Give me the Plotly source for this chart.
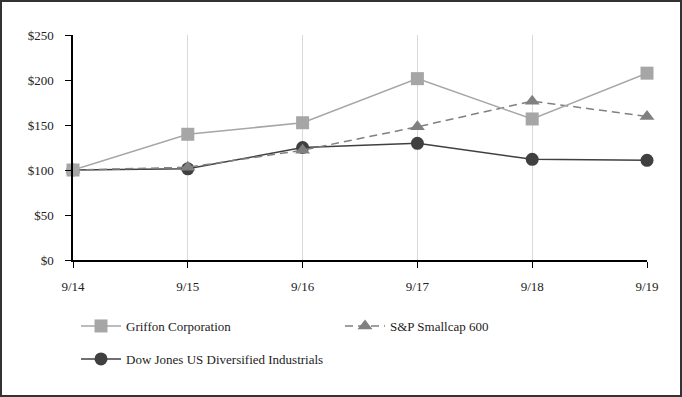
import plotly.graph_objects as go

categories = ["9/14", "9/15", "9/16", "9/17", "9/18", "9/19"]
griffon = [100, 139.7, 152.5, 201.5, 156.7, 207.6]
sp600 = [100, 103.0, 122.0, 148.0, 176.5, 159.5]
dowjones = [100, 101.3, 125.0, 129.6, 111.9, 110.8]
y_ticks = [0, 50, 100, 150, 200, 250]
y_ticklabels = ["$0", "$50", "$100", "$150", "$200", "$250"]

W, H = 682, 397
L, R, T, B = 73, 35, 35, 137
pw, ph = W - L - R, H - T - B

FONT = "Liberation Serif"

fig = go.Figure()
fig.add_trace(go.Scatter(
    x=categories, y=dowjones, name="Dow Jones US Diversified Industrials", mode="lines+markers",
    line=dict(color="#404040", width=1.5),
    marker=dict(symbol="circle", size=13, color="#404040"),
    cliponaxis=False, legend="legend3", showlegend=True))
fig.add_trace(go.Scatter(
    x=categories, y=sp600, name="S&P Smallcap 600", mode="lines+markers",
    line=dict(color="#808080", width=1.5, dash="8px,5px"),
    marker=dict(symbol="triangle-up", size=13, color="#808080"),
    cliponaxis=False, legend="legend2", showlegend=True))
fig.add_trace(go.Scatter(
    x=categories, y=griffon, name="Griffon Corporation", mode="lines+markers",
    line=dict(color="#A6A6A6", width=1.5),
    marker=dict(symbol="square", size=13, color="#A6A6A6"),
    cliponaxis=False, legend="legend", showlegend=True))

def px_x(px):
    return (px - L) / pw

def px_y(py):
    return (H - B - py) / ph

legend_common = dict(font=dict(family=FONT, size=13, color="#222"), bgcolor="rgba(0,0,0,0)",
                     xanchor="left", yanchor="middle", itemwidth=40)
fig.update_layout(
    width=W, height=H,
    showlegend=True,
    margin=dict(l=L, r=R, t=T, b=B, autoexpand=False),
    paper_bgcolor="white", plot_bgcolor="white",
    font=dict(family=FONT, size=13, color="#222"),
    xaxis=dict(type="category", range=[0, 5], showgrid=True, gridcolor="#D9D9D9", gridwidth=1,
               showline=True, linecolor="black", linewidth=1.5, ticks="outside", ticklen=6,
               tickcolor="black", ticklabelstandoff=8, zeroline=False),
    yaxis=dict(range=[0, 250], tickvals=y_ticks, ticktext=y_ticklabels, showgrid=False,
               showline=True, linecolor="black", linewidth=1.5, ticks="outside", ticklen=6,
               tickcolor="black", ticklabelstandoff=9, zeroline=False),
    legend=dict(x=px_x(76), y=px_y(326), **legend_common),
    legend2=dict(x=px_x(340), y=px_y(326), **legend_common),
    legend3=dict(x=px_x(76), y=px_y(359), **legend_common),
    shapes=[dict(type="rect", xref="paper", yref="paper",
                 x0=px_x(1), x1=px_x(W - 1), y0=px_y(H - 1), y1=px_y(1),
                 line=dict(color="#333", width=2))],
)

fig.write_html("out.html", config={"displayModeBar": False},
               post_script="document.body.style.margin='0';document.body.style.overflow='hidden';")
